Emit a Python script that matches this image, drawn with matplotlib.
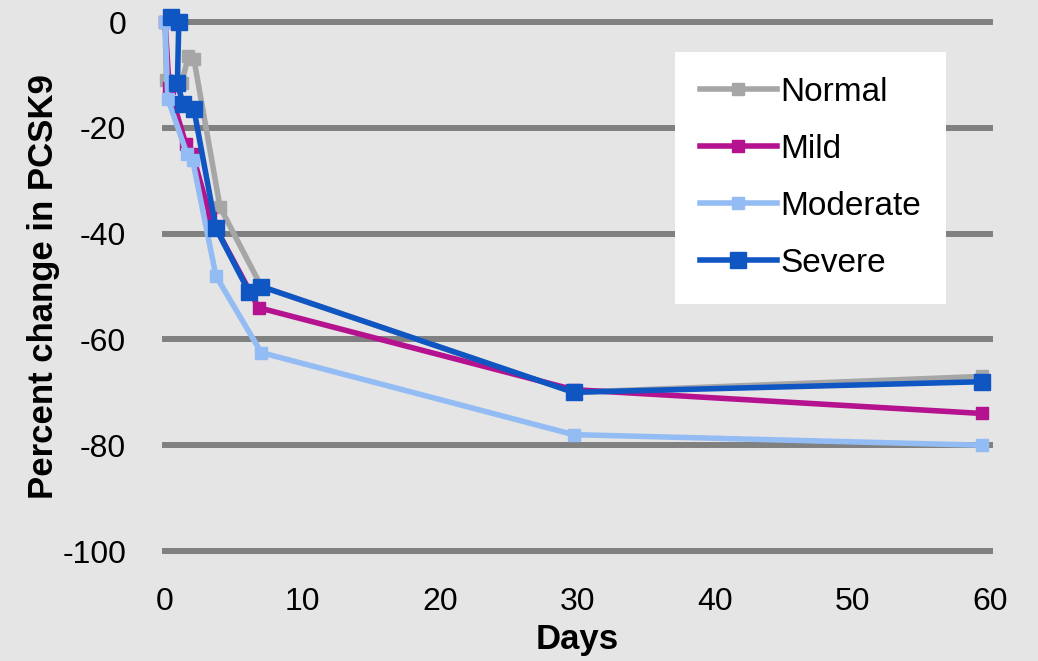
import matplotlib.pyplot as plt

plt.rcParams['font.family'] = ['Liberation Sans', 'DejaVu Sans']
plt.rcParams['axes.unicode_minus'] = False

# days after dose and percent change in PCSK9 for each renal function group
normal_days = [0, 0.1, 1.2, 1.7, 2.1, 4.0, 7.0, 29.7, 59.4]
normal_pct = [0, -11, -11.5, -6.5, -7, -35, -50, -70, -67]

mild_days = [0, 0.3, 1.5, 2.0, 3.3, 6.8, 29.7, 59.4]
mild_pct = [0, -12.5, -23, -25, -37, -54, -69.5, -74]

moderate_days = [0, 0.2, 1.6, 2.0, 3.7, 7.0, 29.7, 59.4]
moderate_pct = [0, -14.5, -25, -26, -48, -62.5, -78, -80]

severe_days = [0.45, 1.0, 0.9, 1.3, 2.1, 3.7, 6.1, 7.0, 29.7, 59.4]
severe_pct = [1, 0, -11.5, -15.5, -16.5, -39, -51, -50, -70, -68]

series = [
    ("Normal", normal_days, normal_pct, "#a6a6a6", 9),
    ("Mild", mild_days, mild_pct, "#b5128f", 9),
    ("Moderate", moderate_days, moderate_pct, "#94bcf4", 9),
    ("Severe", severe_days, severe_pct, "#0f56c3", 12),
]

bg = "#e5e5e5"
fig = plt.figure(figsize=(10.38, 6.61), dpi=100, facecolor=bg)
ax = fig.add_axes([0.159, 0.1664, 0.795, 0.8003], facecolor=bg)

for name, x, y, color, ms in series:
    ax.plot(x, y, color=color, lw=4, marker="s", ms=ms, label=name,
            clip_on=False, zorder=3, solid_joinstyle="miter")

ax.set_xlim(0, 60)
ax.set_ylim(-100, 0)
ax.set_xticks(range(0, 61, 10))
ax.set_yticks(range(-100, 1, 20))
ax.yaxis.grid(True, color="#808080", lw=4.3)
for gl in ax.get_ygridlines():
    gl.set_clip_on(False)
ax.set_axisbelow(True)
for s in ax.spines.values():
    s.set_visible(False)
ax.tick_params(length=0, labelsize=23)
ax.tick_params(axis="y", pad=28)
ax.tick_params(axis="x", pad=26)

ax.set_xlabel("Days", fontsize=25, fontweight="bold", labelpad=4)
ax.set_ylabel("Percent change in PCSK9", fontsize=25, fontweight="bold", labelpad=2)

leg = ax.legend(loc="upper left", bbox_to_anchor=(0.618, 0.943), fontsize=24,
                frameon=True, fancybox=False, edgecolor="white",
                facecolor="white", framealpha=1, labelspacing=0.78,
                handlelength=2.3, handletextpad=0.1, borderpad=0.75,
                borderaxespad=0)
leg.get_frame().set_linewidth(0)

fig.savefig("out.png", dpi=100, facecolor=bg)
plt.close(fig)
